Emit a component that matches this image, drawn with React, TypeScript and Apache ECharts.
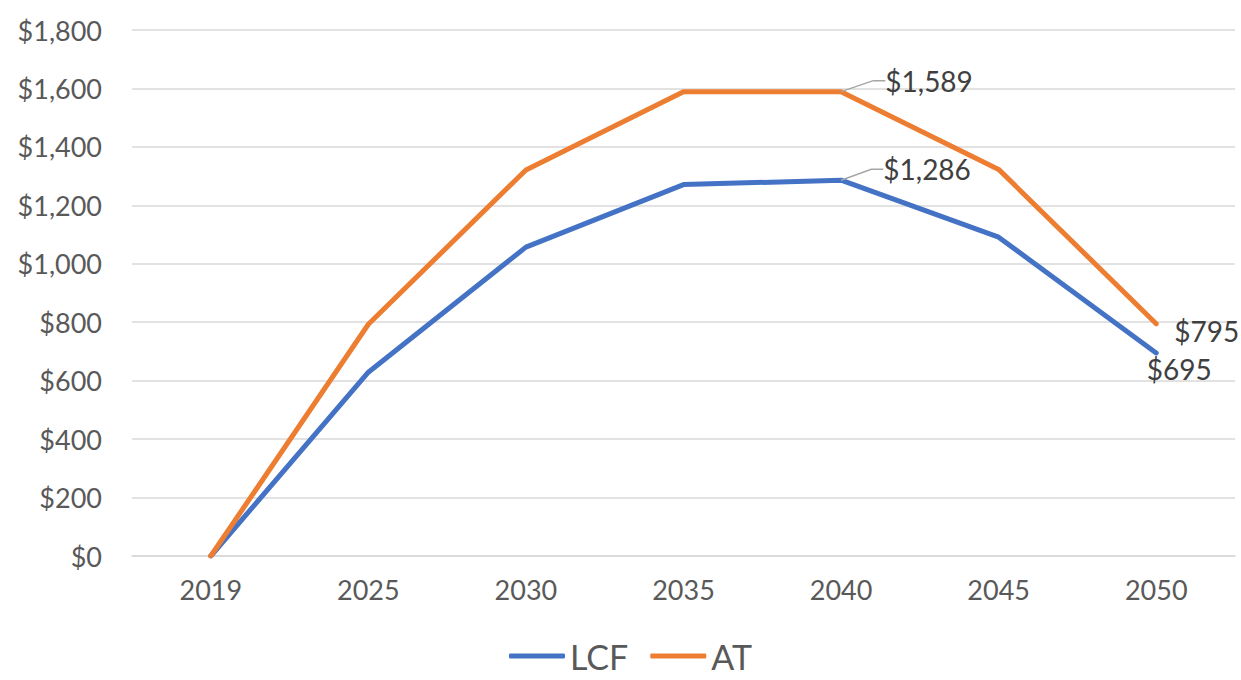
import React, { useEffect, useRef } from "react";
import * as echarts from "echarts";

const years = ["2019", "2025", "2030", "2035", "2040", "2045", "2050"];
const lcf = [0, 629, 1057, 1271, 1286, 1091, 695];
const at = [0, 793, 1321, 1589, 1589, 1323, 795];
const yTicks = { min: 0, max: 1800, interval: 200 };

const fmt = (v: number) => "$" + v.toLocaleString("en-US");
const FONT = "Lato, 'Open Sans', sans-serif";

function labelled(values: number[], cfg: Record<number, any>) {
  return values.map((v, i) => (cfg[i] ? { value: v, ...cfg[i] } : v));
}

export default function App() {
  const ref = useRef<HTMLDivElement>(null);
  useEffect(() => {
    const chart = echarts.init(ref.current!, undefined, { renderer: "svg" });
    const labelBase = {
      show: true,
      formatter: (p: any) => fmt(p.value),
      fontSize: 28,
      color: "#404040",
      fontFamily: FONT,
    };
    const leader = { show: true, length2: 12, lineStyle: { color: "#a6a6a6", width: 1.5 } };
    const noLeader = { show: false };
    chart.setOption({
      animation: false,
      grid: { left: 132, right: 6, top: 30, bottom: 124 },
      legend: {
        top: 638,
        left: 509,
        padding: 0,
        itemWidth: 56,
        itemHeight: 5,
        itemGap: 22,
        icon: "roundRect",
        textStyle: { fontSize: 34, lineHeight: 36, color: "#595959", fontFamily: FONT },
        data: ["LCF", "AT"],
      },
      xAxis: {
        type: "category",
        data: years,
        boundaryGap: true,
        axisLine: { lineStyle: { color: "#d9d9d9", width: 1.5 } },
        axisTick: { show: false },
        axisLabel: { fontSize: 27, color: "#595959", fontFamily: FONT, margin: 20 },
      },
      yAxis: {
        type: "value",
        ...yTicks,
        axisLine: { show: false },
        axisTick: { show: false },
        splitLine: { lineStyle: { color: "#d9d9d9", width: 1.5 } },
        axisLabel: {
          fontSize: 27,
          color: "#595959",
          fontFamily: FONT,
          margin: 30,
          formatter: (v: number) => fmt(v),
        },
      },
      series: [
        {
          name: "LCF",
          type: "line",
          symbol: "circle",
          symbolSize: 0.01,
          showSymbol: true,
          lineStyle: { width: 5, color: "#4472C4", cap: "round", join: "round" },
          itemStyle: { color: "#4472C4" },
          data: labelled(lcf, {
            4: { label: { ...labelBase, position: "top" }, labelLine: leader },
            6: { label: { ...labelBase, position: "bottom" }, labelLine: noLeader },
          }),
          labelLayout: (p: any) =>
            p.dataIndex === 4
              ? { dx: 86, dy: 8, draggable: false }
              : p.dataIndex === 6
              ? { dx: 23, dy: -3 }
              : {},
        },
        {
          name: "AT",
          type: "line",
          symbol: "circle",
          symbolSize: 0.01,
          showSymbol: true,
          lineStyle: { width: 5, color: "#ED7D31", cap: "round", join: "round" },
          itemStyle: { color: "#ED7D31" },
          data: labelled(at, {
            4: { label: { ...labelBase, position: "top" }, labelLine: leader },
            6: { label: { ...labelBase, position: "right" }, labelLine: noLeader },
          }),
          labelLayout: (p: any) =>
            p.dataIndex === 4
              ? { dx: 88, dy: 8, draggable: false }
              : p.dataIndex === 6
              ? { dx: 13, dy: 7 }
              : {},
        },
      ],
    });
    return () => chart.dispose();
  }, []);
  return (
    <div
      ref={ref}
      style={{ position: "absolute", left: 0, top: 0, width: 1241, height: 680, background: "#fff" }}
    />
  );
}
